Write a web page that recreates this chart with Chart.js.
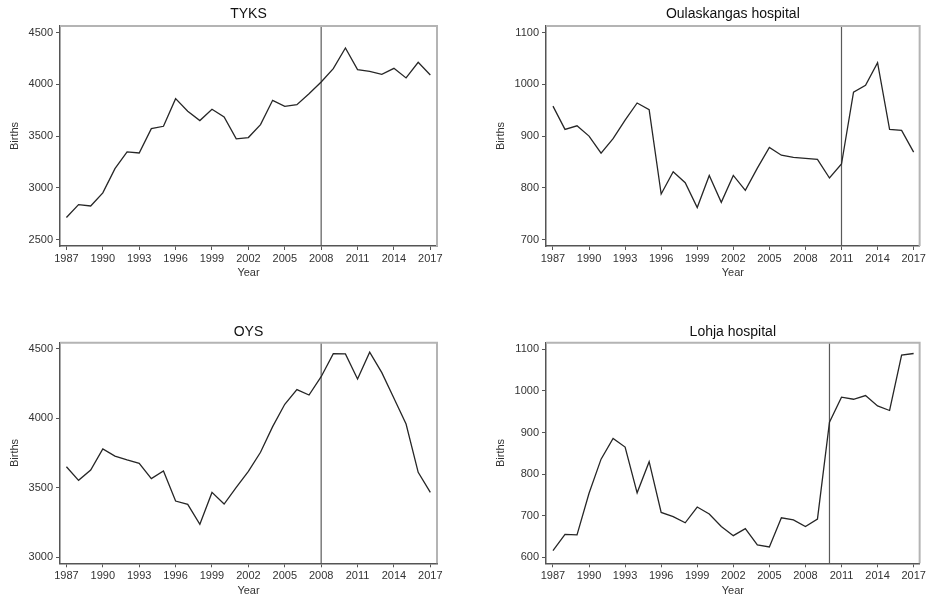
<!DOCTYPE html>
<html><head><meta charset="utf-8">
<script src="https://cdn.jsdelivr.net/npm/chart.js@4"></script>
<style>
body{margin:0;background:#fff;width:928px;height:598px;position:relative;overflow:hidden}
canvas{position:absolute}
</style></head><body>
<canvas id="c1" width="464" height="300" style="left:0;top:0"></canvas>
<canvas id="c2" width="464" height="300" style="left:464px;top:0"></canvas>
<canvas id="c3" width="464" height="298" style="left:0;top:300px"></canvas>
<canvas id="c4" width="464" height="298" style="left:464px;top:300px"></canvas>
<script>
const years = [1987,1988,1989,1990,1991,1992,1993,1994,1995,1996,1997,1998,1999,2000,2001,2002,2003,2004,2005,2006,2007,2008,2009,2010,2011,2012,2013,2014,2015,2016,2017];
const xTicks = [1987,1990,1993,1996,1999,2002,2005,2008,2011,2014,2017];

const tyksBirths = [2713,2838,2825,2951,3186,3347,3337,3572,3595,3862,3740,3650,3760,3685,3473,3486,3611,3846,3788,3804,3910,4023,4152,4352,4143,4126,4097,4155,4062,4213,4091];
const oulaskangasBirths = [958,913,920,900,867,895,931,964,951,788,831,810,762,824,772,824,795,838,878,863,859,857,855,819,846,985,998,1042,913,911,869];
const oysBirths = [3651,3553,3627,3779,3728,3700,3675,3565,3620,3404,3380,3236,3466,3382,3502,3618,3755,3940,4101,4207,4168,4300,4466,4464,4284,4476,4329,4144,3959,3611,3466];
const lohjaBirths = [616,655,654,754,836,886,865,755,830,708,698,683,721,704,674,652,669,630,625,695,690,674,692,925,985,980,989,964,953,1086,1090];

const titles = ["TYKS","Oulaskangas hospital","OYS","Lohja hospital"];
const changeYears = [2008,2011,2008,2010];
const yTicksTyks = [2500,3000,3500,4000,4500];
const yTicksOulaskangas = [700,800,900,1000,1100];
const yTicksOys = [3000,3500,4000,4500];
const yTicksLohja = [600,700,800,900,1000,1100];

const FONT = "'Liberation Sans', Arial, sans-serif";

const framePlugin = {
  id:'frame',
  afterDraw(chart){
    const {ctx, chartArea:a} = chart;
    ctx.save();
    ctx.strokeStyle = '#b4b4b4';
    ctx.lineWidth = 2;
    ctx.beginPath();
    ctx.moveTo(a.left, a.top);
    ctx.lineTo(a.right, a.top);
    ctx.lineTo(a.right, a.bottom);
    ctx.stroke();
    ctx.restore();
  }
};

function makeChart(id, title, values, changeYear, yTicks, yRange, geom){
  const lineData = years.map((y,i)=>({x:y, y:values[i]}));
  const vline = [{x:changeYear, y:yRange[0]},{x:changeYear, y:yRange[1]}];
  new Chart(document.getElementById(id), {
    type:'line',
    data:{datasets:[
      {data:lineData, borderColor:'#262626', borderWidth:1.3, pointRadius:0, tension:0, order:1},
      {data:vline, borderColor:'#5a5a5a', borderWidth:1.2, pointRadius:0, order:2}
    ]},
    options:{
      responsive:false, animation:false, devicePixelRatio:1,
      layout:{padding:{left:0, right:geom.padRight, top:0, bottom:geom.padBottom}},
      plugins:{
        legend:{display:false}, tooltip:{enabled:false},
        title:{display:true, text:title, fullSize:false, color:'#111',
          font:{family:FONT, size:14, weight:'normal'},
          padding:{top:geom.titleTop, bottom:geom.titleBottom}}
      },
      scales:{
        x:{type:'linear', min:geom.xMin, max:geom.xMax,
          afterBuildTicks:s=>{s.ticks = xTicks.map(v=>({value:v}));},
          afterFit:s=>{s.height = geom.xHeight;},
          grid:{drawOnChartArea:false, drawTicks:true, tickLength:4, color:'#555'},
          border:{color:'#555', width:1.5},
          ticks:{color:'#333', font:{family:FONT, size:11}, padding:2, maxRotation:0, autoSkip:false,
            callback:v=>String(v)},
          title:{display:true, text:'Year', color:'#333', font:{family:FONT, size:11}, padding:{top:0,bottom:geom.yearPad}}
        },
        y:{type:'linear', min:yRange[0], max:yRange[1],
          afterBuildTicks:s=>{s.ticks = yTicks.map(v=>({value:v}));},
          afterFit:s=>{s.width = geom.yWidth;},
          grid:{drawOnChartArea:false, drawTicks:true, tickLength:4, color:'#555'},
          border:{color:'#555', width:1.5},
          ticks:{color:'#333', font:{family:FONT, size:11}, padding:3, callback:v=>String(v)},
          title:{display:true, text:'Births', color:'#333', font:{family:FONT, size:11}, padding:{top:geom.birthsPad,bottom:0}}
        }
      }
    },
    plugins:[framePlugin]
  });
}

const gTopLeft = {xMin:1986.47, xMax:2017.55, padRight:27, padBottom:10, titleTop:6, titleBottom:3.2, xHeight:44, yearPad:10, yWidth:60, birthsPad:8.4};
const gTopRight = {xMin:1986.42, xMax:2017.5, padRight:7, padBottom:10, titleTop:6, titleBottom:3.2, xHeight:44, yearPad:10, yWidth:82, birthsPad:30.4};
const gBotLeft = {xMin:1986.47, xMax:2017.55, padRight:27, padBottom:0, titleTop:23.3, titleBottom:2.6, xHeight:34.7, yearPad:0.7, yWidth:60, birthsPad:8.4};
const gBotRight = {xMin:1986.42, xMax:2017.5, padRight:7, padBottom:0, titleTop:23.3, titleBottom:2.6, xHeight:34.7, yearPad:0.7, yWidth:82, birthsPad:30.4};

makeChart('c1', titles[0], tyksBirths, changeYears[0], yTicksTyks, [2438,4564], gTopLeft);
makeChart('c2', titles[1], oulaskangasBirths, changeYears[1], yTicksOulaskangas, [687.6,1112.8], gTopRight);
makeChart('c3', titles[2], oysBirths, changeYears[2], yTicksOys, [2955,4545], gBotLeft);
makeChart('c4', titles[3], lohjaBirths, changeYears[3], yTicksLohja, [585.6,1116], gBotRight);
</script>
</body></html>
